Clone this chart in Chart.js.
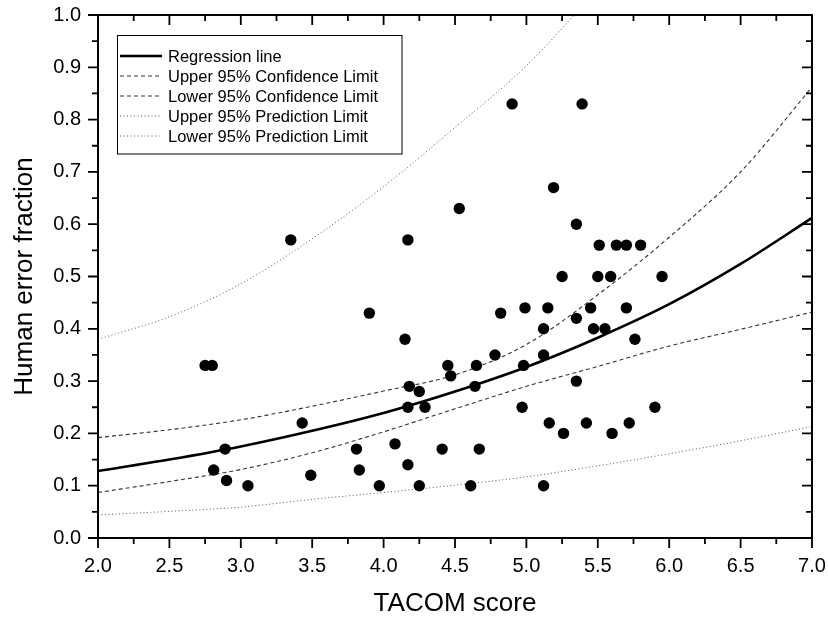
<!DOCTYPE html>
<html>
<head>
<meta charset="utf-8">
<script src="https://cdn.jsdelivr.net/npm/chart.js@4.4.1/dist/chart.umd.min.js"></script>
<style>
    html, body { margin: 0; padding: 0; background: #fff; }
</style>
</head>
<body>
<canvas id="errorChart" width="828" height="617"></canvas>
<script>
// --- DATA ---
const tacomScore = [
    2.75, 2.80, 2.89, 2.81, 2.90, 3.05, 3.35, 3.43, 3.49, 3.81, 3.83, 3.90, 3.97, 4.08, 4.15, 4.17,
    4.17, 4.18, 4.17, 4.25, 4.25, 4.29, 4.41, 4.45, 4.47, 4.53, 4.61, 4.64, 4.65, 4.67, 4.78, 4.82,
    4.90, 4.97, 4.98, 4.99, 5.12, 5.12, 5.12, 5.15, 5.16, 5.19, 5.25, 5.26, 5.35, 5.35, 5.35, 5.39,
    5.42, 5.45, 5.47, 5.50, 5.51, 5.55, 5.59, 5.60, 5.63, 5.70, 5.70, 5.72, 5.76, 5.80, 5.90, 5.95
];
const errorFraction = [
    0.33, 0.33, 0.17, 0.13, 0.11, 0.10, 0.57, 0.22, 0.12, 0.17, 0.13, 0.43, 0.10, 0.18, 0.38, 0.57,
    0.14, 0.29, 0.25, 0.28, 0.10, 0.25, 0.17, 0.33, 0.31, 0.63, 0.10, 0.29, 0.33, 0.17, 0.35, 0.43,
    0.83, 0.25, 0.33, 0.44, 0.40, 0.35, 0.10, 0.44, 0.22, 0.67, 0.50, 0.20, 0.60, 0.42, 0.30, 0.83,
    0.22, 0.44, 0.40, 0.50, 0.56, 0.40, 0.50, 0.20, 0.56, 0.56, 0.44, 0.22, 0.38, 0.56, 0.25, 0.50
];

const curveX          = [2.0, 2.5, 3.0, 3.5, 4.0, 4.5, 5.0, 5.5, 6.0, 6.5, 7.0];
const regressionLine  = [0.128, 0.150, 0.175, 0.205, 0.239, 0.280, 0.327, 0.383, 0.447, 0.524, 0.612];
const upperConfLimit  = [0.192, 0.207, 0.226, 0.252, 0.281, 0.312, 0.370, 0.465, 0.575, 0.700, 0.862];
const lowerConfLimit  = [0.087, 0.108, 0.131, 0.163, 0.203, 0.247, 0.290, 0.328, 0.367, 0.399, 0.432];
const upperPredLimit  = [0.380, 0.423, 0.486, 0.572, 0.672, 0.785, 0.903, 1.050];
const lowerPredLimit  = [0.044, 0.051, 0.059, 0.074, 0.087, 0.101, 0.117, 0.138, 0.161, 0.186, 0.213];

const xMajorTicks = [2.0, 2.5, 3.0, 3.5, 4.0, 4.5, 5.0, 5.5, 6.0, 6.5, 7.0];
const xMinorTicks = [2.25, 2.75, 3.25, 3.75, 4.25, 4.75, 5.25, 5.75, 6.25, 6.75];
const yMajorTicks = [0.0, 0.1, 0.2, 0.3, 0.4, 0.5, 0.6, 0.7, 0.8, 0.9, 1.0];
const yMinorTicks = [0.05, 0.15, 0.25, 0.35, 0.45, 0.55, 0.65, 0.75, 0.85, 0.95];

const FONT = "'Liberation Sans', Arial, sans-serif";

function toPoints(xs, ys) {
    return ys.map((y, i) => ({ x: xs[i], y: y }));
}

// --- frame, inner/outer ticks ---
const frameTicks = {
    id: 'frameTicks',
    afterDraw(chart) {
        const { ctx, chartArea: a, scales: { x, y } } = chart;
        ctx.save();
        ctx.strokeStyle = '#000';
        ctx.lineWidth = 2;
        ctx.strokeRect(a.left, a.top, a.right - a.left, a.bottom - a.top);
        ctx.lineWidth = 1.8;
        const tick = (list, len) => {
            list.forEach(v => {
                const px = x.getPixelForValue(v);
                ctx.beginPath();
                ctx.moveTo(px, a.bottom); ctx.lineTo(px, a.bottom + len);   // bottom, outward
                ctx.moveTo(px, a.top); ctx.lineTo(px, a.top + len);         // top, inward
                ctx.stroke();
            });
        };
        const tickY = (list, len) => {
            list.forEach(v => {
                const py = y.getPixelForValue(v);
                ctx.beginPath();
                ctx.moveTo(a.left, py); ctx.lineTo(a.left - len, py);       // left, outward
                ctx.moveTo(a.right, py); ctx.lineTo(a.right - len, py);     // right, inward
                ctx.stroke();
            });
        };
        tick(xMajorTicks, 10); tick(xMinorTicks, 6);
        tickY(yMajorTicks, 10); tickY(yMinorTicks, 6);
        ctx.restore();
    }
};

// --- boxed legend with line samples ---
const lineLegend = {
    id: 'lineLegend',
    afterDraw(chart) {
        const ctx = chart.ctx;
        const sets = chart.data.datasets.filter(d => d.showLine);
        ctx.save();
        ctx.strokeStyle = '#000';
        ctx.lineWidth = 1;
        ctx.strokeRect(117.5, 35.5, 284.5, 118.5);
        ctx.font = '16.5px ' + FONT;
        ctx.textBaseline = 'middle';
        ctx.fillStyle = '#000';
        sets.forEach((d, i) => {
            const yy = 56 + i * 20;
            ctx.beginPath();
            ctx.strokeStyle = d.borderColor;
            ctx.lineWidth = d.borderWidth;
            ctx.setLineDash(d.borderDash || []);
            ctx.moveTo(120, yy);
            ctx.lineTo(162, yy);
            ctx.stroke();
            ctx.setLineDash([]);
            ctx.fillText(d.label, 168, yy + 1);
        });
        ctx.restore();
    }
};

const curveStyle = { showLine: true, pointRadius: 0, pointHoverRadius: 0, fill: false,
                     cubicInterpolationMode: 'monotone', order: 1 };

new Chart(document.getElementById('errorChart'), {
    type: 'scatter',
    data: {
        datasets: [
            { label: 'Data', data: toPoints(tacomScore, errorFraction), backgroundColor: '#000',
              borderWidth: 0, pointRadius: 5.7, order: 0 },
            { ...curveStyle, label: 'Regression line', data: toPoints(curveX, regressionLine),
              borderColor: '#000', borderWidth: 2.6 },
            { ...curveStyle, label: 'Upper 95% Confidence Limit', data: toPoints(curveX, upperConfLimit),
              borderColor: '#333', borderWidth: 1.1, borderDash: [4, 3] },
            { ...curveStyle, label: 'Lower 95% Confidence Limit', data: toPoints(curveX, lowerConfLimit),
              borderColor: '#333', borderWidth: 1.1, borderDash: [4, 3] },
            { ...curveStyle, label: 'Upper 95% Prediction Limit', data: toPoints(curveX, upperPredLimit),
              borderColor: '#555', borderWidth: 1, borderDash: [1, 2.5] },
            { ...curveStyle, label: 'Lower 95% Prediction Limit', data: toPoints(curveX, lowerPredLimit),
              borderColor: '#555', borderWidth: 1, borderDash: [1, 2.5] }
        ]
    },
    options: {
        responsive: false,
        animation: false,
        layout: { padding: { top: 15, right: 16, left: 0, bottom: 0 } },
        plugins: { legend: { display: false }, tooltip: { enabled: false } },
        scales: {
            x: {
                type: 'linear', min: 2, max: 7,
                afterBuildTicks: s => { s.ticks = xMajorTicks.map(v => ({ value: v })); },
                afterFit: s => { s.height = 79; s.paddingLeft = 0; s.paddingRight = 0; },
                grid: { display: false, drawTicks: false },
                border: { display: false },
                ticks: { color: '#000', padding: 16, font: { family: FONT, size: 20 },
                         callback: v => Number(v).toFixed(1) },
                title: { display: true, text: 'TACOM score', color: '#000',
                         font: { family: FONT, size: 26, lineHeight: 1 }, padding: { top: 0, bottom: 0 } }
            },
            y: {
                type: 'linear', min: 0, max: 1,
                afterBuildTicks: s => { s.ticks = yMajorTicks.map(v => ({ value: v })); },
                afterFit: s => { s.width = 98; s.paddingTop = 0; s.paddingBottom = 0; },
                grid: { display: false, drawTicks: false },
                border: { display: false },
                ticks: { color: '#000', padding: 17, font: { family: FONT, size: 20 },
                         callback: v => Number(v).toFixed(1) },
                title: { display: true, text: 'Human error fraction', color: '#000',
                         font: { family: FONT, size: 26, lineHeight: 1 }, padding: { top: 12, bottom: 0 } }
            }
        }
    },
    plugins: [frameTicks, lineLegend]
});
</script>
</body>
</html>
